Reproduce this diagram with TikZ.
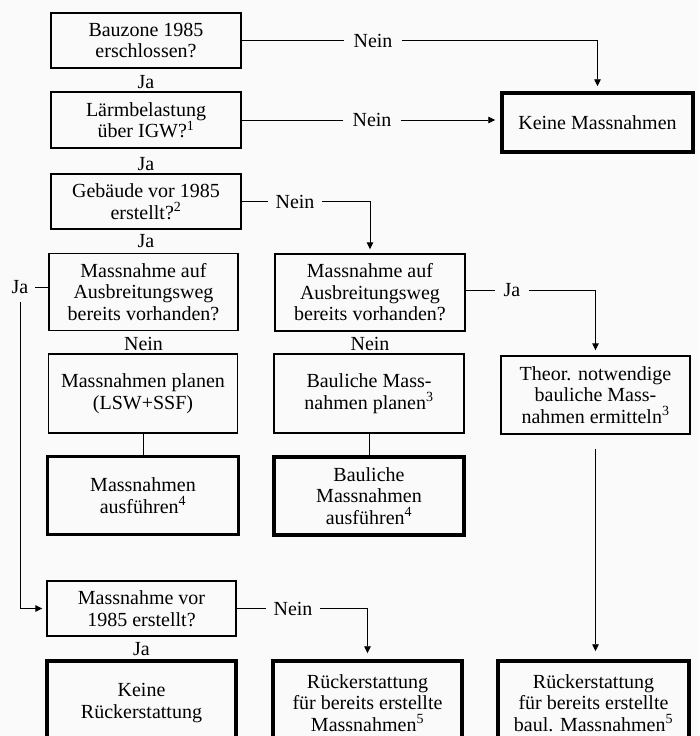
\documentclass[tikz,border=0pt]{standalone}
\usepackage{fontspec}
\setmainfont{Liberation Serif}
\usetikzlibrary{arrows.meta}
\begin{document}
\begin{tikzpicture}[x=1pt, y=-1pt, line width=0.9pt,
    every node/.style={font=\fontsize{20}{21.5}\selectfont, align=center},
    box/.style={draw, line width=1.4pt, inner sep=0pt, minimum width=190pt, minimum height=55pt},
    endbox/.style={draw, line width=3.5pt, inner sep=0pt, minimum width=190pt, minimum height=55pt},
    lbl/.style={inner xsep=9pt, inner ysep=2pt},
    arr/.style={-{Triangle[length=7pt,width=6.5pt]}}]
    \useasboundingbox[fill=black!2] (0,0) rectangle (699,736);

    %––––– row 1 –––––
    \node (q1) at (146,40.5) [box] {Bauzone 1985\\erschlossen?};
    \node (ja1) at (146,82) {Ja};
    \node (n1) at (373,40.5) [lbl] {Nein};
    \draw (q1.east) -- (n1.west);

    %––––– row 2 –––––
    \node (q2) at (146,120) [box, minimum height=56pt] {Lärmbelastung\\über IGW?\textsuperscript{1}};
    \node (ja2) at (146,164) {Ja};
    \node (n2) at (372,120) [lbl] {Nein};
    \node (km) at (597.5,122.5) [endbox, minimum width=191pt, minimum height=59pt] {Keine Massnahmen};
    \draw (q2.east) -- (n2.west);
    \draw[arr, shorten >=5pt] (n1.east) -| (km.north);
    \draw[arr, shorten >=5pt] (n2.east) -- (n2.east -| km.west);

    %––––– row 3 –––––
    \node (q3) at (146,201.5) [box] {Gebäude vor 1985\\erstellt?\textsuperscript{2}};
    \node (ja3) at (146,241) {Ja};
    \node (n3) at (295,201.5) [lbl, inner xsep=7pt] {Nein};
    \draw (q3.east) -- (n3.west);

    %––––– row 4 –––––
    \node (q4) at (143.5,292) [box, minimum width=189pt, minimum height=77pt] {Massnahme auf\\Ausbreitungsweg\\bereits vorhanden?};
    \node (q5) at (370,292.5) [box, minimum height=77pt] {Massnahme auf\\Ausbreitungsweg\\bereits vorhanden?};
    \node (ne4) at (143.5,344) {Nein};
    \node (ne5) at (370,344) {Nein};
    \node (jL) at (20,287) [lbl, inner xsep=6pt] {Ja};
    \node (j5) at (512,290) [lbl, inner xsep=8pt] {Ja};
    \draw[arr, shorten >=4pt] (n3.east) -| (q5.north);
    \draw (jL.east) -- (jL.east -| q4.west);
    \draw (q5.east |- j5.west) -- (j5.west);

    %––––– row 5 –––––
    \node (p1) at (143,393.5) [box, minimum width=189pt, minimum height=79pt] {Massnahmen planen\\(LSW+SSF)};
    \node (p2) at (369,393.5) [box, minimum height=79pt] {Bauliche Mass-\\nahmen planen\textsuperscript{3}};
    \node (p3) at (595.5,395) [box, minimum width=189pt, minimum height=78pt] {Theor. notwendige\\bauliche Mass-\\nahmen ermitteln\textsuperscript{3}};
    \draw[arr, shorten >=5pt] (j5.east) -| (p3.north);

    %––––– row 6 –––––
    \node (a1) at (143,495.5) [endbox, minimum width=191pt, minimum height=78pt] {Massnahmen\\ausführen\textsuperscript{4}};
    \node (a2) at (369,496) [endbox, minimum height=78pt] {Bauliche\\Massnahmen\\ausführen\textsuperscript{4}};
    \draw (p1) -- (a1);
    \draw (p2) -- (a2);

    %––––– row 7 –––––
    \node (q6) at (141.5,608.5) [box, minimum width=189pt] {Massnahme vor\\1985 erstellt?};
    \node (ja6) at (141.5,649) {Ja};
    \node (n6) at (293,608.5) [lbl, inner xsep=7pt] {Nein};
    \draw[arr, shorten <=6pt, shorten >=4pt] (jL.south) |- (q6.west);
    \draw (q6.east) -- (n6.west);

    %––––– row 8 –––––
    \node (r1) at (141.5,703) [endbox, minimum width=189pt, minimum height=84pt] {Keine\\Rückerstattung};
    \node (r2) at (367.5,703) [endbox, minimum width=189pt, minimum height=84pt] {Rückerstattung\\für bereits erstellte\\Massnahmen\textsuperscript{5}};
    \node (r3) at (593.5,703) [endbox, minimum width=191pt, minimum height=84pt] {Rückerstattung\\für bereits erstellte\\baul. Massnahmen\textsuperscript{5}};
    \draw[arr, shorten >=6pt] (n6.east) -| (r2.north);
    \draw[arr, shorten <=14pt, shorten >=8pt] (p3.south) -- (p3.south |- r3.north);
\end{tikzpicture}
\end{document}
